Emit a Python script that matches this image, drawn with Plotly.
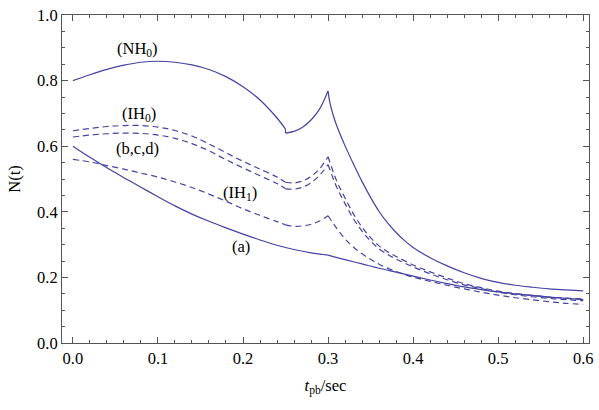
import plotly.graph_objects as go

# ---- data ----
nh0_t = [0.00, 0.02, 0.04, 0.06, 0.08, 0.10, 0.12, 0.14, 0.16, 0.18, 0.20, 0.22, 0.24, 0.25,
         0.25, 0.26, 0.27, 0.28, 0.29, 0.30,
         0.302, 0.306, 0.31, 0.32, 0.33, 0.34, 0.35, 0.36, 0.37, 0.38, 0.39, 0.40, 0.42, 0.44, 0.46,
         0.48, 0.50, 0.52, 0.54, 0.56, 0.58, 0.60]
nh0_n = [0.800, 0.818, 0.834, 0.847, 0.856, 0.859, 0.856, 0.848, 0.834, 0.812, 0.781, 0.741, 0.686, 0.652,
         0.640, 0.645, 0.658, 0.680, 0.713, 0.768,
         0.735, 0.695, 0.664, 0.601, 0.545, 0.492, 0.444, 0.401, 0.366, 0.337, 0.312, 0.291, 0.260, 0.235, 0.214,
         0.197, 0.185, 0.176, 0.170, 0.165, 0.162, 0.159]

ih0_t = [0.00, 0.02, 0.04, 0.06, 0.08, 0.10, 0.12, 0.14, 0.16, 0.18, 0.20, 0.22, 0.24, 0.25,
         0.26, 0.27, 0.28, 0.29, 0.30,
         0.31, 0.32, 0.33, 0.34, 0.35, 0.36, 0.37, 0.38, 0.40, 0.42, 0.44, 0.46,
         0.48, 0.50, 0.52, 0.54, 0.56, 0.58, 0.60]
ih0_n = [0.647, 0.654, 0.660, 0.663, 0.663, 0.658, 0.648, 0.631, 0.607, 0.580, 0.554, 0.530, 0.506, 0.490,
         0.488, 0.494, 0.508, 0.531, 0.568,
         0.495, 0.442, 0.393, 0.353, 0.321, 0.296, 0.278, 0.264, 0.238, 0.217, 0.198, 0.181,
         0.169, 0.158, 0.151, 0.145, 0.140, 0.137, 0.134]

bcd_t = [0.00, 0.02, 0.04, 0.06, 0.08, 0.10, 0.12, 0.14, 0.16, 0.18, 0.20, 0.22, 0.24, 0.25,
         0.26, 0.27, 0.28, 0.29, 0.30,
         0.31, 0.32, 0.33, 0.34, 0.35, 0.36, 0.37, 0.38, 0.40, 0.42, 0.44, 0.46,
         0.48, 0.50, 0.52, 0.54, 0.56, 0.58, 0.60]
bcd_n = [0.628, 0.634, 0.638, 0.640, 0.639, 0.634, 0.624, 0.608, 0.586, 0.559, 0.534, 0.510, 0.486, 0.470,
         0.469, 0.475, 0.489, 0.511, 0.544,
         0.476, 0.425, 0.378, 0.341, 0.311, 0.287, 0.270, 0.256, 0.232, 0.211, 0.193, 0.177,
         0.166, 0.155, 0.147, 0.141, 0.136, 0.132, 0.129]

ih1_t = [0.00, 0.02, 0.04, 0.06, 0.08, 0.10, 0.12, 0.14, 0.16, 0.18, 0.20, 0.22, 0.24, 0.25,
         0.26, 0.27, 0.28, 0.29, 0.30,
         0.31, 0.32, 0.33, 0.34, 0.35, 0.36, 0.38, 0.40, 0.42, 0.44, 0.46,
         0.48, 0.50, 0.52, 0.54, 0.56, 0.58, 0.60]
ih1_n = [0.560, 0.552, 0.541, 0.530, 0.518, 0.506, 0.491, 0.474, 0.454, 0.432, 0.409, 0.389, 0.370, 0.360,
         0.356, 0.357, 0.362, 0.372, 0.388,
         0.350, 0.317, 0.292, 0.272, 0.255, 0.240, 0.218, 0.201, 0.188, 0.176, 0.165,
         0.155, 0.146, 0.138, 0.132, 0.126, 0.121, 0.118]

a_t = [0.00, 0.02, 0.04, 0.06, 0.08, 0.10, 0.12, 0.14, 0.16, 0.18, 0.20, 0.22, 0.24, 0.26, 0.28, 0.30,
       0.32, 0.34, 0.36, 0.38, 0.40, 0.42, 0.44, 0.46, 0.48, 0.50, 0.52, 0.54, 0.56, 0.58, 0.60]
a_n = [0.600, 0.566, 0.534, 0.504, 0.475, 0.446, 0.418, 0.393, 0.371, 0.351, 0.332, 0.314, 0.298, 0.285, 0.275, 0.268,
       0.254, 0.241, 0.228, 0.216, 0.204, 0.192, 0.181, 0.171, 0.163, 0.156, 0.150, 0.145, 0.140, 0.136, 0.132]

labels = ["(NH<sub>0</sub>)", "(IH<sub>0</sub>)", "(b,c,d)", "(IH<sub>1</sub>)", "(a)"]
label_t = [0.0763, 0.0782, 0.0758, 0.197, 0.1976]
label_n = [0.896, 0.697, 0.592, 0.457, 0.295]

x_ticks = [0.0, 0.1, 0.2, 0.3, 0.4, 0.5, 0.6]
y_ticks = [0.0, 0.2, 0.4, 0.6, 0.8, 1.0]

# ---- styling ----
LINE = "#4343a3"
FONT = "Liberation Serif"
FS = 16.5
AXC = "#555555"
X_RANGE = [-0.0128, 0.6068]
Y_RANGE = [0, 1]


def segments(t, n, breaks):
    cut = [i for i, v in enumerate(t) if v in breaks]
    cut = sorted(set([0] + cut + [len(t) - 1]))
    return [(t[a:b + 1], n[a:b + 1]) for a, b in zip(cut[:-1], cut[1:])]


fig = go.Figure()
curves = [
    (nh0_t, nh0_n, "solid", [0.25, 0.30]),
    (ih0_t, ih0_n, "6px,4px", [0.25, 0.30]),
    (bcd_t, bcd_n, "6px,4px", [0.25, 0.30]),
    (ih1_t, ih1_n, "6px,4px", [0.25, 0.30]),
    (a_t, a_n, "solid", [0.30]),
]
for t, n, dash, br in curves:
    for st, sn in segments(t, n, br):
        fig.add_trace(go.Scatter(
            x=st, y=sn, mode="lines",
            line=dict(color=LINE, width=1.2, dash=dash,
                      shape="spline" if len(st) > 2 else "linear", smoothing=1.0),
            showlegend=False, hoverinfo="skip"))

# invisible trace to carry the top/right frame axes
fig.add_trace(go.Scatter(x=[X_RANGE[0]], y=[0], xaxis="x2", yaxis="y2", mode="markers",
                         marker=dict(opacity=0), showlegend=False, hoverinfo="skip"))

for txt, lx, ly in zip(labels, label_t, label_n):
    fig.add_annotation(x=lx, y=ly, text=txt, showarrow=False,
                       font=dict(family=FONT, size=FS, color="black"))

tickfont = dict(family=FONT, size=FS, color="black")
fig.update_layout(
    width=599, height=410,
    margin=dict(l=62, r=6, t=12, b=67),
    plot_bgcolor="white", paper_bgcolor="white",
    font=dict(family=FONT, size=FS, color="black"),
    xaxis=dict(range=X_RANGE, tickvals=x_ticks, ticktext=[f"{v:.1f}" for v in x_ticks],
               showline=True, linecolor=AXC, linewidth=1, ticks="inside", ticklen=6,
               tickcolor=AXC, tickwidth=1, showgrid=False, zeroline=False, tickfont=tickfont,
               minor=dict(dtick=0.02, tick0=0, ticks="inside", ticklen=3, tickcolor=AXC, showgrid=False),
               title=dict(text="<i>t</i><sub>pb</sub>/sec", font=dict(family=FONT, size=FS, color="black"),
                          standoff=12)),
    yaxis=dict(range=Y_RANGE, tickvals=y_ticks, ticktext=[f"{v:.1f}" for v in y_ticks],
               showline=True, linecolor=AXC, linewidth=1, ticks="inside", ticklen=6,
               tickcolor=AXC, tickwidth=1, showgrid=False, zeroline=False, tickfont=tickfont,
               minor=dict(dtick=0.05, tick0=0, ticks="inside", ticklen=3, tickcolor=AXC, showgrid=False),
               title=dict(text="N(t)", font=dict(family=FONT, size=FS, color="black"), standoff=12)),
    xaxis2=dict(range=X_RANGE, overlaying="x", side="top", anchor="y2", tickvals=x_ticks,
                showticklabels=False, showline=True, linecolor=AXC, linewidth=1, ticks="inside",
                ticklen=6, tickcolor=AXC, showgrid=False, zeroline=False,
                minor=dict(dtick=0.02, tick0=0, ticks="inside", ticklen=3, tickcolor=AXC, showgrid=False)),
    yaxis2=dict(range=Y_RANGE, overlaying="y", side="right", anchor="x2", tickvals=y_ticks,
                showticklabels=False, showline=True, linecolor=AXC, linewidth=1, ticks="inside",
                ticklen=6, tickcolor=AXC, showgrid=False, zeroline=False,
                minor=dict(dtick=0.05, tick0=0, ticks="inside", ticklen=3, tickcolor=AXC, showgrid=False)),
)

fig.write_html("out.html", config={"displayModeBar": False},
               post_script="document.body.style.margin='0px';document.body.style.overflow='hidden';")
